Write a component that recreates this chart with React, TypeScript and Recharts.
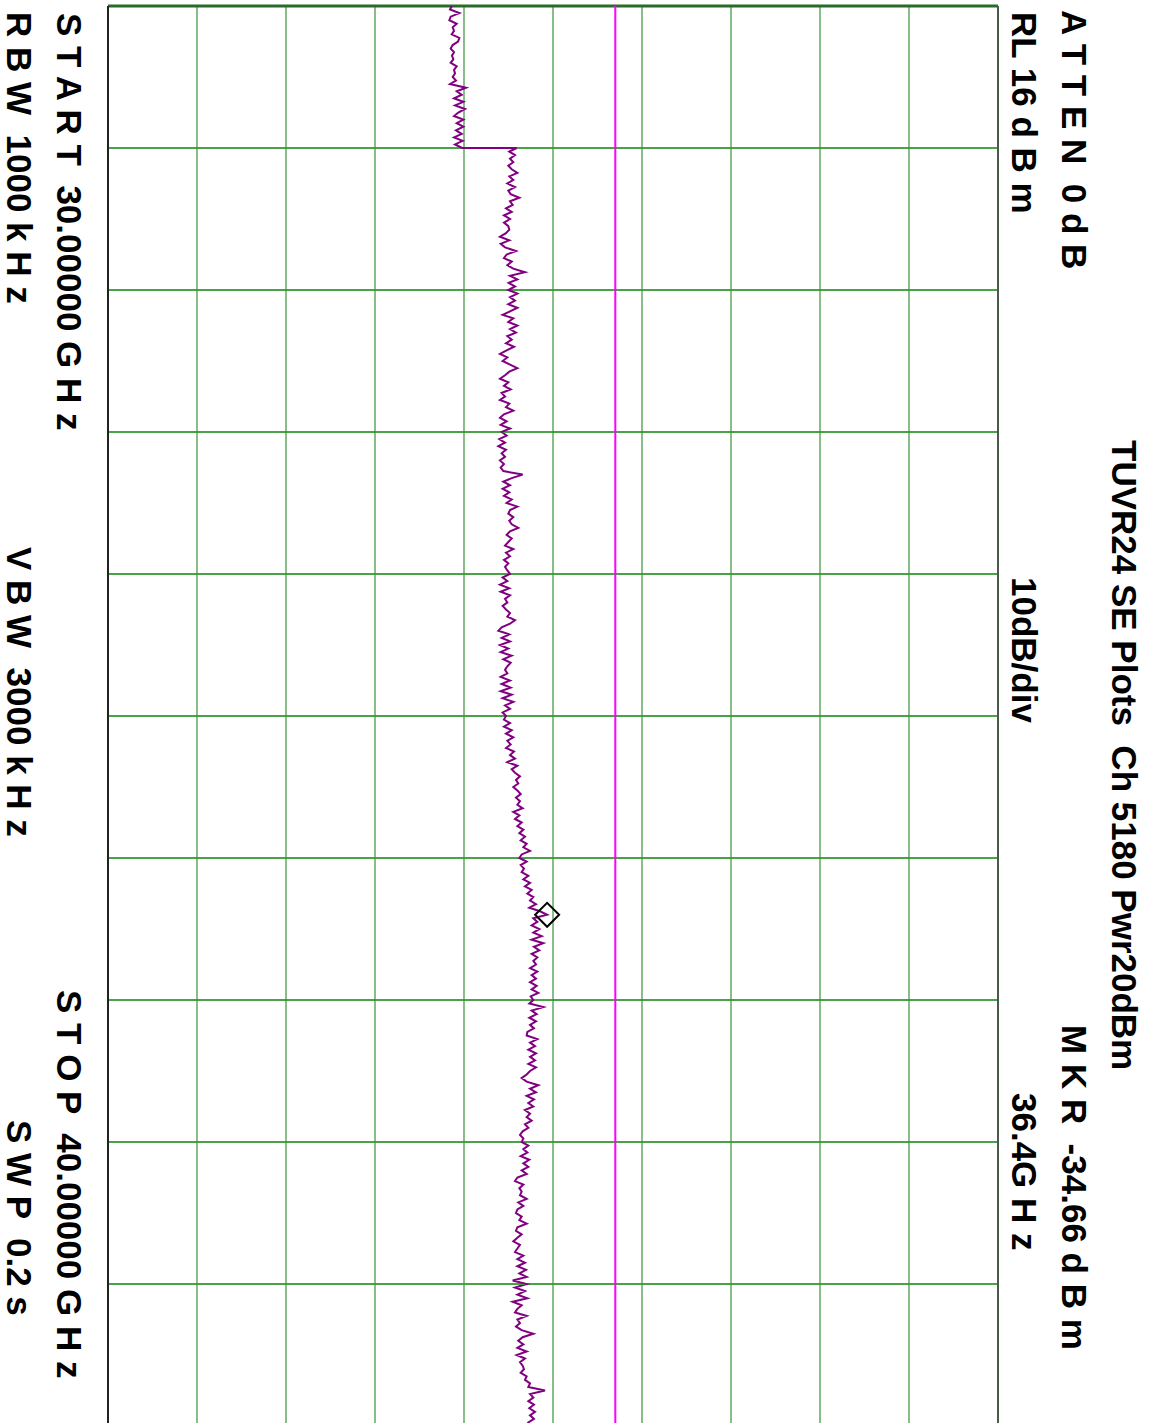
import { LineChart, Line, XAxis, YAxis, ReferenceLine, ReferenceDot } from 'recharts';

// spectrum analyser sweep, 30–40 GHz, drawn landscape and then turned 90° clockwise
const FREQ_TICKS = [30, 31, 32, 33, 34, 35, 36, 37, 38, 39, 40];
const LEVEL_TICKS = [-84, -74, -64, -54, -44, -34, -24, -14, -4, 6, 16];
const STEP_GHZ = 0.025;
const LIMIT_DBM = -27;
const MARKER_GHZ = 36.4;
const MARKER_DBM = -34.66;

// trace readings in dBm, one array per GHz (first value at the start frequency)
const seg30 = [
  -45.38, -45.57, -44.52, -45.5, -45.65, -44.82, -45.27, -45.12, -45.38, -44.52,
  -44.67, -45.27, -45.5, -45.12, -45.35, -45.2, -45.5, -44.82, -45.12, -45.01,
  -45.27, -44.9, -45.57, -43.78, -44.82, -44.26, -45.12, -44.07, -45.01, -43.89,
  -44.64, -45.12, -44.07, -44.82, -44.07, -44.9, -44.26, -45.12, -44.15, -45.01,
  -44.2,
];
const seg31 = [
  -38.08, -38.91, -38.27, -38.83, -38.46, -39.02, -38.64, -38.0, -38.91, -38.46,
  -39.13, -38.27, -39.02, -38.76, -37.78, -38.83, -38.53, -39.28, -38.64, -39.51,
  -38.83, -39.51, -39.02, -38.91, -39.28, -39.96, -38.91, -39.88, -39.39, -38.16,
  -39.21, -39.51, -38.64, -39.13, -38.46, -37.15, -38.83, -38.0, -38.98, -38.27,
];
const seg32 = [
  -39.02, -38.0, -38.83, -38.27, -39.02, -38.0, -38.83, -39.66, -38.46, -39.02,
  -38.0, -38.83, -38.16, -39.13, -38.64, -39.28, -38.38, -39.21, -39.96, -39.13,
  -39.66, -38.83, -38.0, -38.91, -39.39, -39.96, -39.02, -39.51, -38.76, -39.77,
  -39.39, -39.96, -38.91, -39.28, -38.46, -39.51, -39.96, -39.21, -39.88, -38.83,
];
const seg33 = [
  -39.77, -39.21, -40.03, -39.39, -40.14, -39.28, -39.77, -39.39, -39.96, -39.51,
  -39.88, -39.58, -37.41, -38.64, -39.58, -38.83, -39.66, -38.91, -39.51, -38.64,
  -39.21, -38.0, -38.83, -39.02, -38.46, -38.91, -38.64, -37.9, -38.83, -39.21,
  -38.64, -39.02, -39.39, -38.46, -39.28, -38.83, -39.51, -39.02, -39.39, -39.13,
];
const seg34 = [
  -38.83, -39.66, -39.13, -39.96, -38.91, -39.88, -38.83, -39.39, -39.13, -39.66,
  -39.28, -38.83, -39.13, -38.27, -38.83, -39.77, -40.14, -38.91, -39.77, -38.83,
  -39.96, -39.02, -39.88, -38.64, -39.58, -38.76, -39.13, -39.39, -39.13, -39.88,
  -38.83, -39.77, -38.76, -39.88, -38.64, -39.66, -38.46, -39.39, -38.83, -39.66,
];
const seg35 = [
  -39.28, -39.51, -38.83, -39.51, -38.64, -39.28, -38.46, -39.13, -38.76, -39.28,
  -38.38, -38.83, -38.27, -39.13, -38.0, -38.64, -38.27, -37.71, -38.16, -37.9,
  -38.46, -38.0, -37.63, -38.16, -37.71, -38.0, -37.41, -38.46, -37.78, -38.27,
  -37.52, -38.0, -37.33, -37.78, -37.15, -37.63, -36.96, -37.33, -36.58, -37.52,
];
const seg36 = [
  -37.78, -36.96, -37.63, -37.26, -37.52, -36.77, -37.33, -36.58, -37.15, -36.4,
  -36.88, -36.21, -36.58, -35.91, -36.66, -35.46, -34.66, -36.21, -35.76, -36.4,
  -35.54, -36.21, -35.27, -36.4, -35.09, -36.14, -35.54, -36.4, -35.76, -36.21,
  -35.91, -36.58, -35.76, -36.4, -35.91, -36.58, -35.84, -36.4, -35.65, -36.51,
];
const seg37 = [
  -36.21, -36.66, -35.09, -36.4, -35.84, -36.66, -35.91, -36.58, -36.14, -36.88,
  -36.96, -35.76, -36.58, -36.02, -36.77, -35.91, -36.58, -36.02, -36.77, -35.91,
  -36.58, -36.96, -37.52, -36.96, -35.65, -36.58, -35.91, -36.96, -36.14, -36.77,
  -36.21, -37.15, -36.58, -36.96, -36.4, -37.15, -36.77, -37.41, -37.71, -37.33,
];
const seg38 = [
  -37.52, -36.77, -37.33, -36.88, -37.63, -36.66, -37.33, -36.77, -37.52, -36.96,
  -38.0, -38.27, -37.33, -37.78, -37.52, -37.71, -36.96, -37.9, -37.33, -38.0,
  -38.16, -37.52, -37.78, -36.96, -38.0, -38.16, -37.52, -38.0, -38.46, -37.71,
  -38.0, -38.27, -37.33, -38.0, -37.15, -38.0, -37.03, -37.78, -36.96, -38.53,
];
const seg39 = [
  -36.96, -38.27, -37.15, -38.0, -36.88, -38.53, -37.52, -38.0, -38.27, -36.96,
  -38.0, -37.71, -38.16, -37.52, -36.21, -37.41, -37.9, -37.33, -38.0, -36.96,
  -38.08, -37.15, -37.71, -37.41, -37.26, -37.63, -36.96, -37.15, -36.58, -36.77,
  -34.9, -36.58, -36.21, -36.77, -36.14, -36.66, -36.02, -36.58, -36.14, -36.77,
  -36.4,
];

const SEGMENTS: [number, number[]][] = [
  [30, seg30], [31, seg31], [32, seg32], [33, seg33], [34, seg34],
  [35, seg35], [36, seg36], [37, seg37], [38, seg38], [39, seg39],
];

const trace = SEGMENTS.flatMap(([start, vals]) =>
  vals.map((v, i) => ({ f: +(start + i * STEP_GHZ).toFixed(3), dbm: v }))
);

const W = 1423;
const H = 1156;
const FONT = "'Liberation Sans', Arial, Helvetica, sans-serif";

const Diamond = (props: any) => {
  const { cx, cy } = props;
  const r = 12;
  return (
    <polygon
      points={`${cx},${cy - r} ${cx + r},${cy} ${cx},${cy + r} ${cx - r},${cy}`}
      fill="none"
      stroke="#000"
      strokeWidth={2}
    />
  );
};

export default function App() {
  const txt = {
    fontFamily: FONT,
    fontWeight: 700,
    fontSize: 35,
    fill: '#000',
    style: { whiteSpace: 'pre' as const },
  };
  return (
    <>
      <style>{`html,body{margin:0;overflow:hidden;background:#fff}`}</style>
      <div
        style={{
          position: 'absolute',
          left: 0,
          top: 0,
          width: W,
          height: H,
          transformOrigin: '0 0',
          transform: `translateX(${H}px) rotate(90deg)`,
          background: '#fff',
        }}
      >
        <LineChart
          width={W}
          height={H}
          data={trace}
          margin={{ top: 158, right: -3, bottom: 108, left: 6 }}
        >
          <XAxis dataKey="f" type="number" domain={[30, 40]} ticks={FREQ_TICKS} hide />
          <YAxis type="number" domain={[-84, 16]} ticks={LEVEL_TICKS} hide />
          {FREQ_TICKS.slice(1).map((f) => (
            <ReferenceLine key={`f${f}`} x={f} stroke="#0b850b" strokeWidth={1.3} />
          ))}
          {LEVEL_TICKS.slice(1, -1).map((l) => (
            <ReferenceLine key={`l${l}`} y={l} stroke="#389338" strokeWidth={1.2} />
          ))}
          <ReferenceLine x={30} stroke="#2a6a2a" strokeWidth={3} />
          <ReferenceLine y={-84} stroke="#222" strokeWidth={2} />
          <ReferenceLine y={16} stroke="#4a5a4a" strokeWidth={2} />
          <ReferenceLine y={LIMIT_DBM} stroke="#ff00ff" strokeWidth={2} />
          <Line
            dataKey="dbm"
            type="linear"
            stroke="#800080"
            strokeWidth={2}
            dot={false}
            isAnimationActive={false}
          />
          <ReferenceDot x={MARKER_GHZ} y={MARKER_DBM} shape={Diamond} />
        </LineChart>
        <svg
          width={W}
          height={H}
          style={{ position: 'absolute', left: 0, top: 0, pointerEvents: 'none' }}
        >
          <text x={440} y={44} {...txt}>TUVR24 SE Plots  Ch 5180 Pwr20dBm</text>
          <text x={10} y={94} {...txt}>A T T E N  0 d B</text>
          <text x={12} y={144} {...txt}>RL 16 d B m</text>
          <text x={577} y={144} {...txt}>10dB/div</text>
          <text x={1025} y={94} {...txt}>M K R  -34.66 d B m</text>
          <text x={1093} y={144} {...txt}>36.4G H z</text>
          <text x={13} y={1099} {...txt}>S T A R T  30.00000 G H z</text>
          <text x={12} y={1149} {...txt}>R B W  1000 k H z</text>
          <text x={547} y={1149} {...txt}>V B W  3000 k H z</text>
          <text x={990} y={1099} {...txt}>S T O P  40.00000 G H z</text>
          <text x={1120} y={1149} {...txt}>S W P  0.2 s</text>
        </svg>
      </div>
    </>
  );
}
